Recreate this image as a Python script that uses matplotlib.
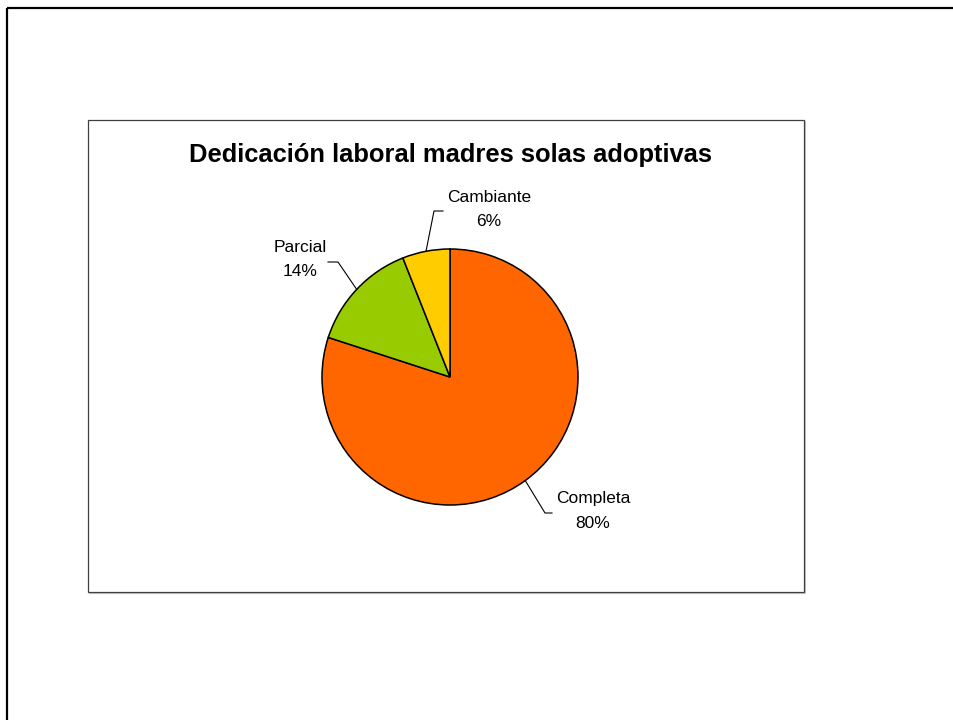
import numpy as np
import matplotlib
matplotlib.use("Agg")
import matplotlib.pyplot as plt
from matplotlib.patches import Rectangle

# data
categories = ["Completa", "Parcial", "Cambiante"]
values = [80, 14, 6]
colors = ["#FF6600", "#99CC00", "#FFCC00"]
title = "Dedicación laboral madres solas adoptivas"

W, H = 954, 720
plt.rcParams['font.family'] = ['Liberation Sans', 'DejaVu Sans']

fig = plt.figure(figsize=(W / 100, H / 100), dpi=100)
ax = fig.add_axes([0, 0, 1, 1])

def Y(y):
    # pixel row -> axis y
    return H - y

# outer page frame (runs off right/bottom edge)
ax.plot([7, W + 5], [Y(8), Y(8)], color="black", lw=1.6, solid_capstyle="butt")
ax.plot([7, 7], [Y(8), Y(H + 5)], color="black", lw=1.6, solid_capstyle="butt")

# chart area box with faint shadow
ax.add_patch(Rectangle((89, Y(593)), 716, 472, facecolor="none", edgecolor="#c8c8c8", lw=0.8))
ax.add_patch(Rectangle((88, Y(592)), 716, 472, facecolor="white", edgecolor="#404040", lw=0.9))

# pie
cx, cy, r = 450, Y(377), 128
wedges, _ = ax.pie(values, colors=colors, startangle=90, counterclock=False,
                   center=(cx, cy), radius=r,
                   wedgeprops=dict(edgecolor="black", linewidth=1.1))

# labels with leader lines: (elbow, line end, text center) in pixels
label_pos = {
    "Completa": ((545, 513), (552, 513), (593, 511)),
    "Parcial": ((338, 262), (328, 262), (300, 260)),
    "Cambiante": ((434, 211), (443, 211), (489, 209)),
}
for w, cat, v in zip(wedges, categories, values):
    th = np.deg2rad((w.theta1 + w.theta2) / 2)
    ex, ey = cx + r * np.cos(th), cy + r * np.sin(th)
    (bx, by), (fx, fy), (tx, ty) = label_pos[cat]
    ax.plot([ex, bx, fx], [ey, Y(by), Y(fy)], color="black", lw=0.8)
    ax.text(tx, Y(ty), f"{cat}\n{v}%", ha="center", va="center",
            multialignment="center", fontsize=12.5, linespacing=1.75)

ax.text(451, Y(155), title, ha="center", va="center", fontsize=18.4, fontweight="bold")

ax.set_xlim(0, W)
ax.set_ylim(0, H)
ax.set_aspect("auto")
ax.axis("off")

fig.savefig("out.png", dpi=100, facecolor="white")
